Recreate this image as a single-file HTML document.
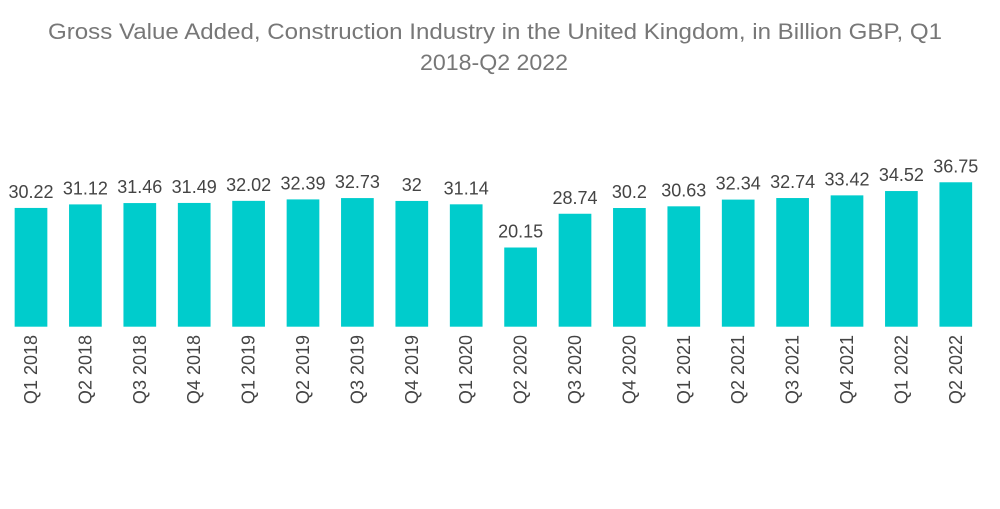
<!DOCTYPE html>
<html><head><meta charset="utf-8"><style>
body{margin:0;background:#fff;}
svg text{font-family:"Liberation Sans",sans-serif;}
</style></head><body>
<svg width="1000" height="504" viewBox="0 0 1000 504">
<text x="48" y="39" textLength="894" lengthAdjust="spacingAndGlyphs" font-size="22" fill="#777">Gross Value Added, Construction Industry in the United Kingdom, in Billion GBP, Q1</text>
<text x="420" y="70" textLength="148" lengthAdjust="spacingAndGlyphs" font-size="22" fill="#777">2018-Q2 2022</text>
<g id="bars"></g>
</svg>
<script>
const categories=["Q1 2018","Q2 2018","Q3 2018","Q4 2018","Q1 2019","Q2 2019","Q3 2019","Q4 2019","Q1 2020","Q2 2020","Q3 2020","Q4 2020","Q1 2021","Q2 2021","Q3 2021","Q4 2021","Q1 2022","Q2 2022"];
const values=[30.22,31.12,31.46,31.49,32.02,32.39,32.73,32,31.14,20.15,28.74,30.2,30.63,32.34,32.74,33.42,34.52,36.75];
const labels=["30.22","31.12","31.46","31.49","32.02","32.39","32.73","32","31.14","20.15","28.74","30.2","30.63","32.34","32.74","33.42","34.52","36.75"];
const baseY=326.7, k=3.93, x0=31, step=54.4, bw=32.7;
const xs=i=>x0+i*step, ys=v=>baseY-v*k;
const g=document.getElementById('bars'), NS="http://www.w3.org/2000/svg";
categories.forEach((c,i)=>{
 const r=document.createElementNS(NS,'rect');
 
 
 r.setAttribute('x',xs(i)-bw/2);r.setAttribute('y',ys(values[i]));
 r.setAttribute('width',bw);r.setAttribute('height',baseY-ys(values[i]));
 r.setAttribute('fill','#00CCCC');g.appendChild(r);
 const t=document.createElementNS(NS,'text');
 
 
 t.setAttribute('x',xs(i));t.setAttribute('y',ys(values[i])-10);
 t.setAttribute('text-anchor','middle');t.setAttribute('font-size','18');t.setAttribute('fill','#444');
 t.textContent=labels[i];g.appendChild(t);
 const a=document.createElementNS(NS,'text');
 
 
 a.setAttribute('transform','translate('+(xs(i)+6)+',335) rotate(-90)');
 a.setAttribute('text-anchor','end');a.setAttribute('font-size','18');a.setAttribute('fill','#444');
 a.textContent=c;g.appendChild(a);
});
</script>
</body></html>
